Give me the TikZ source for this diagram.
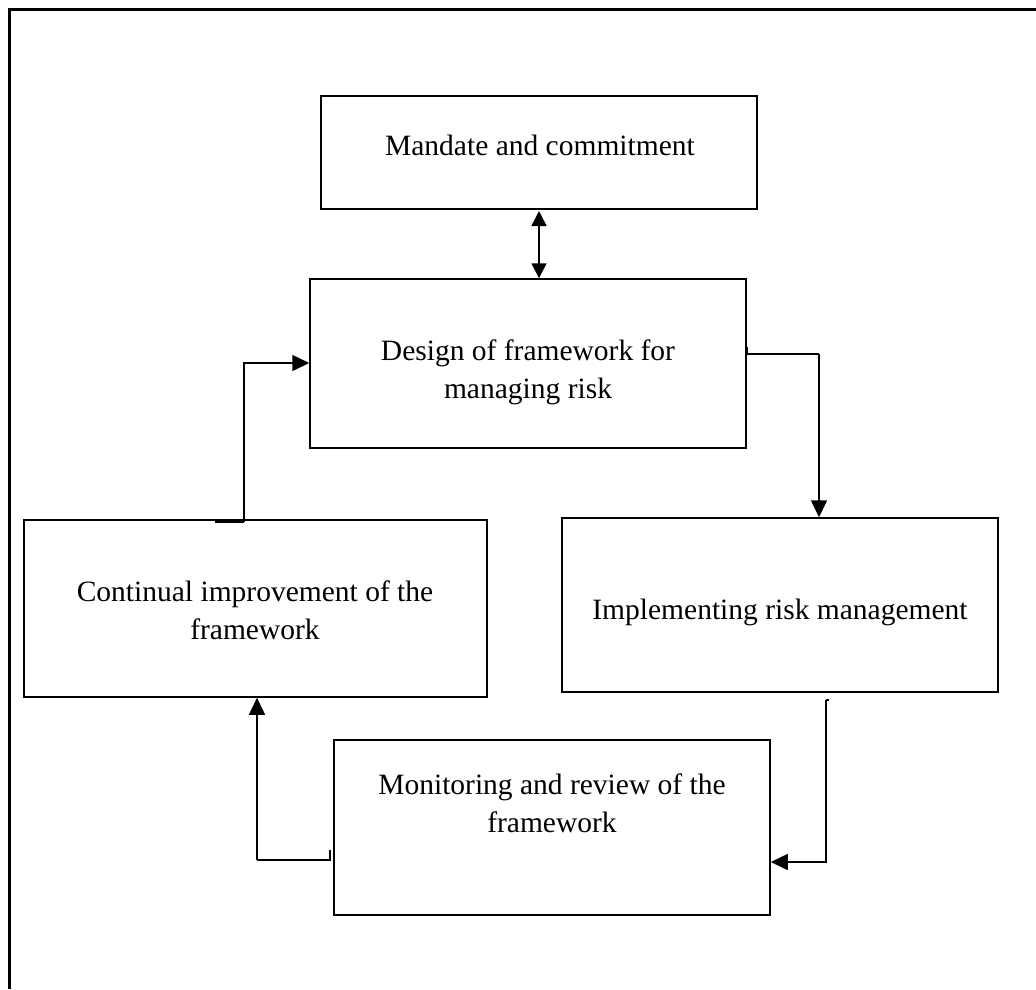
\documentclass[tikz,border=0pt]{standalone}
\usepackage{fontspec}
\setmainfont{Liberation Serif}
\usetikzlibrary{arrows.meta}

\begin{document}
\begin{tikzpicture}[x=1pt, y=-1pt,
		box/.style={draw, line width=1.5pt, inner sep=0pt},
		txt/.style={align=center, inner sep=0pt, font=\fontsize{29.5}{38}\selectfont},
		link/.style={line width=1.5pt},
		arr/.style={line width=1.5pt, -{Triangle[length=17pt, width=16pt]}}]
				\useasboundingbox (0,0) rectangle (1036,989);
				\draw [line width=3pt] (1036,9) -- (9,9) -- (9,989);

				\node [box, minimum width=436pt, minimum height=113pt] (mandate) at (539,152.5) {};
				\node [box, minimum width=436pt, minimum height=169pt] (design) at (528,363.5) {};
				\node [box, minimum width=436pt, minimum height=174pt] (implement) at (780,605) {};
				\node [box, minimum width=463pt, minimum height=177pt] (improve) at (255.5,608.5) {};
				\node [box, minimum width=436pt, minimum height=175pt] (monitor) at (552,827.5) {};

				\node [txt] (mandatetext) at (540,145) {Mandate and commitment};
				\node [txt] (designtext) at (528,372) {Design of framework for\\managing risk};
				\node [txt] (implementtext) at (780,612) {Implementing risk management};
				\node [txt] (improvetext) at (255,610) {Continual improvement of the\\framework};
				\node [txt] (monitortext) at (552,803) {Monitoring and review of the\\framework};

				\coordinate (t1) at (747,347);
				\coordinate (b1) at (819,354);
				\coordinate (t2) at (829,700);
				\coordinate (b2) at (826,862);
				\coordinate (t3) at (330,850);
				\coordinate (b3) at (257,860);
				\coordinate (t4) at (215,522);
				\coordinate (b4) at (244,363);

				\draw [line width=1.5pt, {Triangle[length=15pt, width=15pt]}-{Triangle[length=15pt, width=15pt]}] (539,211) -- (design.north -| 539,0);
				\draw [link] (t1) -- (t1 |- b1) -- (b1);
				\draw [arr] (b1) -- (b1 |- implement.north);
				\draw [link] (t2) -- (b2 |- t2);
				\draw [arr] (b2 |- t2) -- (b2) -- (monitor.east |- b2);
				\draw [link] (t3) -- (t3 |- b3) -- (b3);
				\draw [arr] (b3) -- (b3 |- improve.south);
				\draw [link] (t4) -- (b4 |- t4);
				\draw [arr] (b4 |- t4) -- (b4) -- (design.west |- b4);
		\end{tikzpicture}
\end{document}
